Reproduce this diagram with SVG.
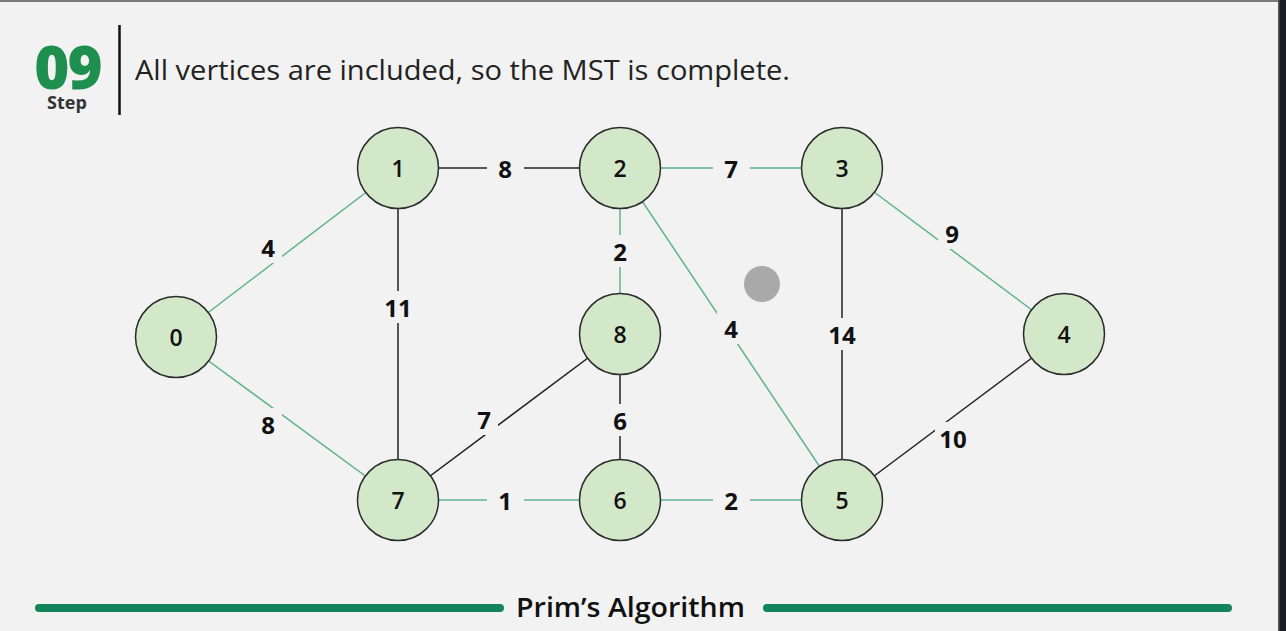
<svg xmlns="http://www.w3.org/2000/svg" width="1286" height="631" viewBox="0 0 1286 631">
<style>
.bg{fill:#f2f2f2}
.e{stroke-width:1.5;fill:none}
.mst{stroke:#5fb38e}
.oth{stroke:#222}
.lb{fill:#f2f2f2}
.lt{font-family:"Open Sans","Liberation Sans",sans-serif;font-weight:700;font-size:24px;fill:#111;text-anchor:middle;dominant-baseline:central}
.nc{fill:#d3e8c9;stroke:#2b2b2b;stroke-width:1.5}
.nt{font-family:"Open Sans","Liberation Sans",sans-serif;font-weight:600;font-size:23px;fill:#111;text-anchor:middle;dominant-baseline:central}
</style>
<rect class="bg" x="0" y="0" width="1286" height="631"/>
<rect x="0" y="0" width="1286" height="2" fill="#7a7a7a"/>
<rect x="1278" y="0" width="8" height="631" fill="#1b1d22"/>
<rect x="1278" y="0" width="1.5" height="631" fill="#5a5a5a"/>
<g id="header">
<text x="67.5" y="89" font-family="'Open Sans','Liberation Sans',sans-serif" font-weight="800" font-size="60" fill="#1f8f4f" text-anchor="middle" letter-spacing="-2">09</text>
<text x="67" y="109" font-family="'Open Sans','Liberation Sans',sans-serif" font-weight="700" font-size="18" fill="#333" text-anchor="middle">Step</text>
<line x1="119.5" y1="25" x2="119.5" y2="115" stroke="#111" stroke-width="2.5"/>
<text x="135" y="80" font-family="'Open Sans','Liberation Sans',sans-serif" font-weight="400" font-size="27" fill="#222" textLength="655" lengthAdjust="spacingAndGlyphs">All vertices are included, so the MST is complete.</text>
</g>
<g id="connectors">
<line class="e mst" x1="176" y1="337" x2="398" y2="168"/>
<line class="e mst" x1="176" y1="337" x2="398" y2="500"/>
<line class="e oth" x1="398" y1="168" x2="620" y2="168"/>
<line class="e oth" x1="398" y1="168" x2="398" y2="500"/>
<line class="e mst" x1="620" y1="168" x2="842" y2="168"/>
<line class="e mst" x1="620" y1="168" x2="620" y2="334"/>
<line class="e mst" x1="620" y1="168" x2="842" y2="500"/>
<line class="e mst" x1="842" y1="168" x2="1064" y2="334"/>
<line class="e oth" x1="842" y1="168" x2="842" y2="500"/>
<line class="e oth" x1="620" y1="334" x2="398" y2="500"/>
<line class="e oth" x1="620" y1="334" x2="620" y2="500"/>
<line class="e mst" x1="398" y1="500" x2="620" y2="500"/>
<line class="e mst" x1="620" y1="500" x2="842" y2="500"/>
<line class="e oth" x1="842" y1="500" x2="1064" y2="334"/>
<rect class="lb" x="254" y="231" width="28" height="32"/><text class="lt" x="268" y="247">4</text>
<rect class="lb" x="254" y="408" width="28" height="32"/><text class="lt" x="268" y="424">8</text>
<rect class="lb" x="487" y="152" width="37" height="32"/><text class="lt" x="505" y="168">8</text>
<rect class="lb" x="382" y="291" width="32" height="32"/><text class="lt" x="398" y="307">11</text>
<rect class="lb" x="713" y="152" width="37" height="32"/><text class="lt" x="731" y="168">7</text>
<rect class="lb" x="606" y="235" width="28" height="32"/><text class="lt" x="620" y="251">2</text>
<rect class="lb" x="717" y="312" width="28" height="32"/><text class="lt" x="731" y="328">4</text>
<rect class="lb" x="938" y="217" width="28" height="32"/><text class="lt" x="952" y="233">9</text>
<rect class="lb" x="824" y="318" width="36" height="32"/><text class="lt" x="842" y="334">14</text>
<rect class="lb" x="470" y="403" width="28" height="32"/><text class="lt" x="484" y="419">7</text>
<rect class="lb" x="606" y="404" width="28" height="32"/><text class="lt" x="620" y="420">6</text>
<rect class="lb" x="487" y="484" width="37" height="32"/><text class="lt" x="505" y="500">1</text>
<rect class="lb" x="713" y="484" width="37" height="32"/><text class="lt" x="731" y="500">2</text>
<rect class="lb" x="935" y="422" width="36" height="32"/><text class="lt" x="953" y="438">10</text>
</g>
<g id="node0"><circle class="nc" cx="176" cy="337" r="40.5"/><text class="nt" x="176" y="337">0</text></g>
<g id="node1"><circle class="nc" cx="398" cy="168" r="40.5"/><text class="nt" x="398" y="168">1</text></g>
<g id="node2"><circle class="nc" cx="620" cy="168" r="40.5"/><text class="nt" x="620" y="168">2</text></g>
<g id="node3"><circle class="nc" cx="842" cy="168" r="40.5"/><text class="nt" x="842" y="168">3</text></g>
<g id="node4"><circle class="nc" cx="1064" cy="334" r="40.5"/><text class="nt" x="1064" y="334">4</text></g>
<g id="node5"><circle class="nc" cx="842" cy="500" r="40.5"/><text class="nt" x="842" y="500">5</text></g>
<g id="node6"><circle class="nc" cx="620" cy="500" r="40.5"/><text class="nt" x="620" y="500">6</text></g>
<g id="node7"><circle class="nc" cx="398" cy="500" r="40.5"/><text class="nt" x="398" y="500">7</text></g>
<g id="node8"><circle class="nc" cx="620" cy="334" r="40.5"/><text class="nt" x="620" y="334">8</text></g>
<circle cx="762" cy="284" r="18" fill="#a9a9a9"/>
<g id="footer">
<line x1="39" y1="608" x2="500" y2="608" stroke="#12855c" stroke-width="8" stroke-linecap="round"/>
<line x1="767" y1="608" x2="1228" y2="608" stroke="#12855c" stroke-width="8" stroke-linecap="round"/>
<text x="630.5" y="617" font-family="'Open Sans','Liberation Sans',sans-serif" font-weight="600" font-size="27" fill="#111" text-anchor="middle" textLength="229" lengthAdjust="spacingAndGlyphs">Prim’s Algorithm</text>
</g>
</svg>
